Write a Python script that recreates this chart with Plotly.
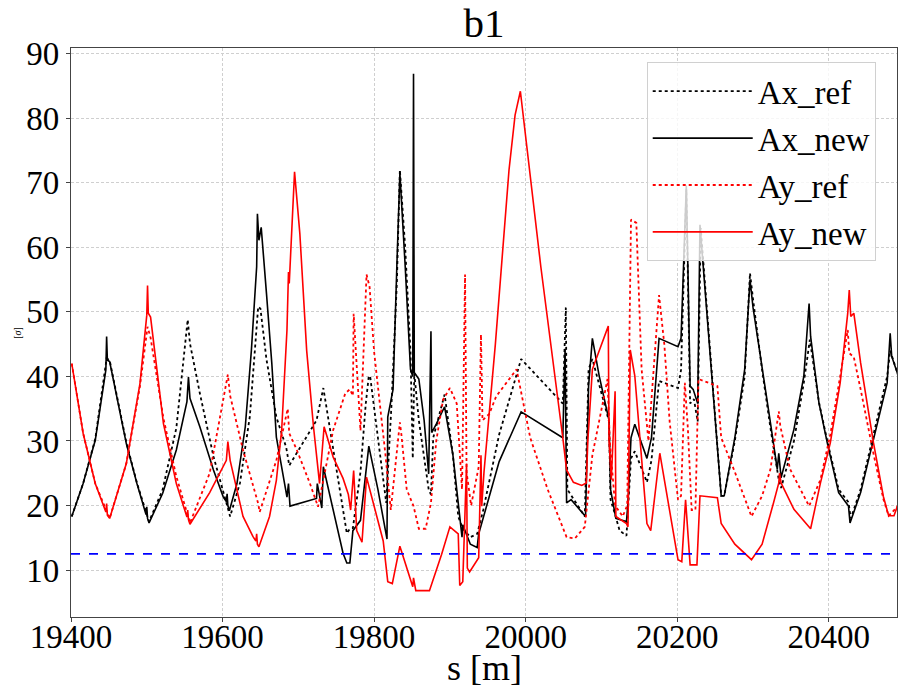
import plotly.graph_objects as go

# ---------------- data ----------------
ax_new_s = [19401, 19416, 19432, 19446, 19447, 19448, 19451, 19473, 19487, 19499, 19500, 19501, 19503, 19521, 19539,
            19553, 19555, 19557, 19570, 19588, 19601, 19605, 19606, 19607, 19609, 19619, 19630, 19638, 19645, 19646,
            19648, 19651, 19658, 19665, 19671, 19680, 19685, 19687, 19689, 19724, 19725, 19731, 19733, 19759, 19764,
            19768, 19772, 19782, 19789, 19793, 19805, 19817, 19818, 19825, 19830, 19834, 19841, 19848, 19851, 19852,
            19853, 19859, 19866, 19872, 19875, 19876, 19882, 19893, 19904, 19911, 19916, 19917, 19927, 19936, 19938,
            19965, 19994, 20049, 20052, 20054, 20060, 20079, 20083, 20088, 20097, 20110, 20112, 20119, 20133, 20135,
            20139, 20144, 20160, 20166, 20176, 20201, 20205, 20212, 20217, 20221, 20227, 20230, 20258, 20262, 20276,
            20289, 20296, 20300, 20310, 20323, 20332, 20334, 20337, 20354, 20367, 20374, 20376, 20387, 20398, 20413,
            20426, 20428, 20442, 20459, 20477, 20481, 20483, 20492]
ax_new_v = [18.3, 23.4, 30.1, 41, 46.2, 42.5, 42.3, 29.6, 23.4, 18.6, 19.8, 18.0, 17.3, 21.9, 28.6,
            36.1, 39.9, 36.6, 32.2, 25.5, 21.3, 20.6, 21.8, 20.0, 19.2, 23.4, 32.2, 44, 57, 65.2,
            61.1, 63.1, 52.8, 42, 30.6, 25, 21.3, 23.4, 19.9, 21.1, 23.4, 19.6, 26, 12.6, 11.1,
            11.1, 16.1, 17.7, 25.2, 29.2, 22.5, 14.8, 33.7, 38, 57.1, 71.5, 57.1, 41.1, 40, 86.9,
            40.6, 39.6, 33.2, 24.9, 47, 31.3, 32.6, 35.3, 27.8, 19.9, 15.1, 17, 14, 13.5, 15.6,
            26.8, 34.5, 30.5, 44.3, 20.4, 20.9, 18.3, 38.5, 45.9, 40.1, 33.2, 22.5, 18, 17.5, 20.4,
            30.5, 32.6, 27.3, 30.5, 45.9, 44.6, 45.9, 69.6, 38.5, 38, 35.8, 63.5, 21.5, 21.5, 30.5,
            41.1, 55, 50.7, 43.1, 32.8, 25.6, 28.1, 24.3, 31.8, 40, 51.3, 46.2, 35.9, 29.7, 22,
            19.9, 17.3, 22, 30.2, 39, 46.7, 43.1, 40]

ax_ref_s = [19401, 19416, 19432, 19447, 19451, 19473, 19487, 19503, 19521, 19539, 19554, 19557, 19570, 19588, 19610,
            19623, 19636, 19647, 19650, 19658, 19671, 19684, 19688, 19724, 19733, 19764, 19768, 19772, 19782, 19789,
            19793, 19795, 19805, 19816, 19823, 19830, 19834, 19841, 19848, 19851, 19853, 19859, 19872, 19875, 19878,
            19893, 19904, 19911, 19917, 19927, 19936, 19944, 19965, 19994, 20049, 20053, 20055, 20078, 20083, 20088,
            20110, 20112, 20117, 20124, 20133, 20135, 20139, 20144, 20160, 20166, 20176, 20201, 20205, 20212, 20217,
            20222, 20227, 20231, 20258, 20262, 20276, 20289, 20296, 20300, 20312, 20323, 20334, 20337, 20354, 20367,
            20375, 20387, 20398, 20413, 20426, 20429, 20442, 20459, 20477, 20481, 20492]
ax_ref_v = [18.3, 23.4, 30.3, 42.8, 42.5, 29.8, 23.5, 17.5, 22.5, 32, 48.8, 45.1, 37.4, 27.6, 18.3,
            23.5, 33.8, 50.8, 50.5, 42.6, 33.7, 29, 26.2, 33.2, 38.2, 15.7, 16.4, 16.5, 25.2, 35.8,
            40.1, 39.8, 30.5, 20.4, 35.8, 54.5, 72, 60, 43.8, 27.3, 40.5, 33.2, 22.5, 21.7, 30.5,
            37.2, 27.8, 18.3, 16.4, 15.1, 15.6, 19.3, 31, 42.7, 35.8, 50.7, 22.5, 18.3, 41.1, 42.7,
            33, 20.9, 19, 16.1, 15.3, 20, 27.3, 28.4, 23.6, 27, 39.3, 38.2, 41, 69, 35.8,
            36.5, 33, 63, 21.5, 21.5, 30, 40, 56, 52, 41, 32, 24, 22.7, 30, 39,
            45.7, 36, 30, 22.5, 20.5, 18, 22.5, 31, 40, 44, 40]

ay_new_s = [19401, 19416, 19432, 19446, 19447, 19448, 19451, 19473, 19491, 19500, 19501, 19502, 19505, 19522, 19539,
            19553, 19554, 19555, 19557, 19570, 19583, 19605, 19607, 19610, 19627, 19640, 19644, 19645, 19646, 19648,
            19662, 19671, 19678, 19685, 19687, 19688, 19695, 19702, 19711, 19720, 19724, 19728, 19734, 19746, 19759,
            19766, 19769, 19773, 19777, 19784, 19790, 19800, 19812, 19818, 19824, 19834, 19845, 19851, 19852, 19855,
            19873, 19889, 19900, 19911, 19913, 19917, 19922, 19923, 19926, 19938, 19941, 19942, 19945, 19960, 19978,
            19986, 19993, 19999, 20020, 20049, 20054, 20063, 20074, 20080, 20082, 20088, 20109, 20110, 20113, 20118,
            20119, 20133, 20135, 20138, 20144, 20160, 20165, 20177, 20201, 20206, 20211, 20217, 20226, 20230, 20253,
            20258, 20276, 20298, 20312, 20327, 20334, 20335, 20337, 20354, 20376, 20389, 20402, 20415, 20425, 20427,
            20429, 20433, 20442, 20459, 20472, 20479, 20486, 20492]
ay_new_v = [42, 31.2, 23.4, 19.0, 20.3, 18.5, 18.0, 26.5, 38.9, 49.5, 54.1, 49.8, 49.2, 32.7, 23.4,
            18.2, 19.3, 17.8, 17.1, 19.5, 22, 27, 29.9, 27, 18.3, 15.2, 14.5, 15.6, 14, 13.6,
            18.3, 23.9, 31.7, 47.2, 56.2, 54.4, 71.7, 62.1, 44, 32.2, 28.1, 23.4, 32.2, 27.5, 24.2,
            21.7, 19.3, 25.4, 16.1, 14.3, 24.4, 19.9, 14.5, 8.2, 7.9, 13.7, 9.8, 7.4, 8.8, 6.8,
            6.8, 12.4, 16.7, 15.6, 7.6, 8.2, 26.5, 10.3, 9.7, 11.9, 27.8, 19.9, 25.2, 45, 72,
            80.5, 84.2, 78, 57, 30.5, 25.5, 23.6, 23.1, 23.5, 30, 41.1, 47.8, 30, 24, 37.7,
            18.3, 17.2, 16.7, 44.1, 40.1, 17.2, 16.1, 28.1, 11.6, 11.3, 20.9, 10.8, 10.8, 21.5, 21.2,
            17.2, 14, 11.6, 14, 20.4, 23.5, 25, 23.5, 19.4, 16.4, 23.5, 29.7, 39, 49.8, 53.4,
            49.3, 49.8, 42.1, 29.7, 21.4, 18.4, 18.4, 20.4]

ay_ref_s = [19401, 19416, 19432, 19451, 19473, 19491, 19501, 19505, 19522, 19539, 19557, 19570, 19583, 19607, 19610,
            19627, 19647, 19649, 19671, 19686, 19688, 19698, 19715, 19726, 19746, 19762, 19768, 19772, 19773, 19782,
            19790, 19794, 19800, 19815, 19822, 19834, 19836, 19843, 19852, 19859, 19868, 19875, 19882, 19891, 19900,
            19909, 19916, 19920, 19922, 19928, 19938, 19941, 19943, 19952, 19961, 19988, 20006, 20029, 20054, 20065,
            20078, 20088, 20108, 20111, 20118, 20128, 20134, 20139, 20146, 20153, 20162, 20176, 20183, 20190, 20201,
            20205, 20210, 20214, 20219, 20224, 20228, 20253, 20258, 20276, 20298, 20312, 20323, 20334, 20336, 20349,
            20374, 20389, 20402, 20415, 20425, 20427, 20433, 20442, 20459, 20472, 20479, 20492]
ay_ref_v = [42, 31.2, 23.4, 18, 26.5, 38.5, 47.7, 46, 33.5, 24.5, 17.3, 21, 25, 40.3, 37,
            28.6, 20.3, 19, 27, 35, 31.2, 28.6, 23.5, 19.8, 31.7, 37.4, 38, 37, 49.7, 31.6,
            55.8, 53.9, 43.8, 27.8, 19.3, 32.9, 31, 22.5, 19.9, 16.4, 16.4, 20.4, 30, 36.4, 38.2,
            35.8, 22.5, 55.8, 25.2, 20, 26, 46.5, 33.2, 34.2, 36.9, 41.1, 30.5, 22.5, 15.1, 14.9,
            16.7, 27.8, 39.6, 30, 20, 18.3, 20, 64.3, 63.8, 41.1, 30, 52.6, 44.9, 33, 20.9,
            21.5, 39, 32, 19.3, 19.3, 39.6, 38.5, 30.5, 25.2, 18.3, 21.5, 25.6, 34.6, 32.3, 25.6,
            19.9, 24, 31, 40, 47.2, 43.6, 43, 38, 28, 21, 18.4, 20]

threshold = 12.5
x_range = [19400, 20490]
y_range = [2.72, 90.9]
x_ticks = [19400, 19600, 19800, 20000, 20200, 20400]
y_ticks = [10, 20, 30, 40, 50, 60, 70, 80, 90]

FONT = "Liberation Serif, Times New Roman, serif"

fig = go.Figure()
fig.add_trace(go.Scatter(x=ax_ref_s, y=ax_ref_v, mode="lines", name="Ax_ref", legendgroup="a",
                         line=dict(color="black", width=1.8, dash="dot")))
fig.add_trace(go.Scatter(x=ax_new_s, y=ax_new_v, mode="lines", name="Ax_new", legendgroup="b",
                         line=dict(color="black", width=1.6)))
fig.add_trace(go.Scatter(x=ay_ref_s, y=ay_ref_v, mode="lines", name="Ay_ref", legendgroup="c",
                         line=dict(color="red", width=1.8, dash="dot")))
fig.add_trace(go.Scatter(x=ay_new_s, y=ay_new_v, mode="lines", name="Ay_new", legendgroup="d",
                         line=dict(color="red", width=1.6)))
fig.add_trace(go.Scatter(x=x_range, y=[threshold, threshold], mode="lines", showlegend=False,
                         line=dict(color="blue", width=1.8, dash="dash")))

axis_common = dict(
    showgrid=True, gridcolor="#cfcfcf", griddash="3px,2px", gridwidth=0.8,
    showline=True, linecolor="#444444", linewidth=1.2, mirror=True,
    ticks="outside", ticklen=4, tickcolor="#444444",
    tickfont=dict(family=FONT, size=33, color="black"), zeroline=False,
)

fig.update_layout(
    width=898, height=696,
    margin=dict(l=71, r=1, t=48, b=79, autoexpand=False),
    paper_bgcolor="white", plot_bgcolor="white",
    font=dict(family=FONT, color="black"),
    title=dict(text="b1", xref="paper", x=0.5, xanchor="center", y=0.967, yanchor="middle",
               font=dict(family=FONT, size=41, color="black")),
    showlegend=True,
    legend=dict(x=0.697, xanchor="left", y=0.975, yanchor="top",
                bgcolor="rgba(255,255,255,0.8)", bordercolor="#d0d0d0", borderwidth=1,
                font=dict(family=FONT, size=33, color="black"),
                itemwidth=100, tracegroupgap=1, traceorder="grouped"),
    xaxis=dict(range=x_range, tickvals=x_ticks, ticktext=[str(t) for t in x_ticks],
               ticklabelstandoff=-14, **axis_common),
    yaxis=dict(range=y_range, tickvals=y_ticks, ticktext=[str(t) for t in y_ticks], **axis_common),
    annotations=[
        dict(text="s [m]", xref="paper", yref="paper", x=0.5, y=-0.0895, xanchor="center", yanchor="middle",
             showarrow=False, font=dict(family=FONT, size=36, color="black")),
        dict(text="[<i>σ</i>]", xref="paper", yref="paper", x=-0.065, y=0.5, xanchor="center", yanchor="middle",
             textangle=-90, showarrow=False, font=dict(family=FONT, size=10, color="black")),
    ],
)

fig.write_html("out.html", config={"displayModeBar": False},
               post_script="document.body.style.margin='0';document.body.style.overflow='hidden';")
